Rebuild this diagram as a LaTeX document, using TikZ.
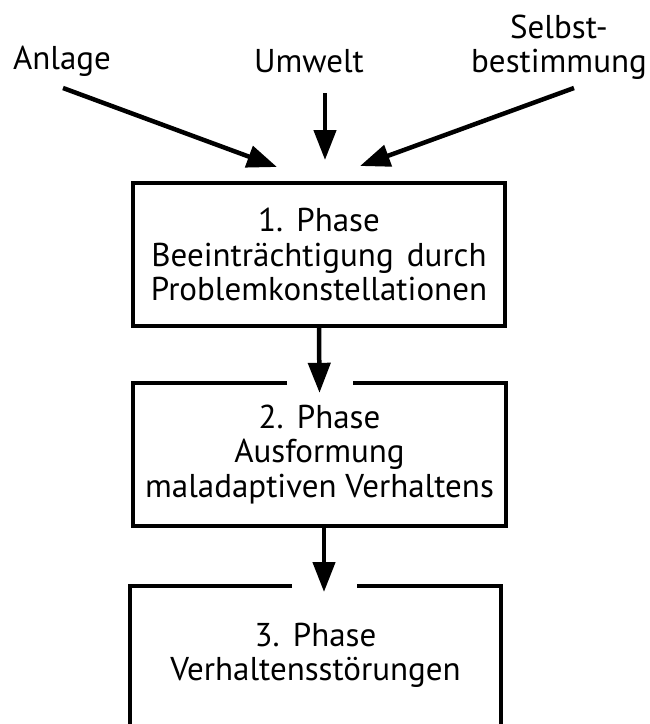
\documentclass[tikz,border=0pt]{standalone}
\usepackage{fontspec}
\setmainfont{PT Sans}
\usetikzlibrary{arrows.meta}
\begin{document}
\begin{tikzpicture}[x=1pt,y=-1pt,
  lbl/.style={font=\fontsize{33}{34.5}\selectfont, align=center, inner sep=0pt},
  arr/.style={line width=4.5pt, -{Triangle[length=30pt,width=22pt]}},
  frame/.style={line width=4pt}]
\useasboundingbox (0,0) rectangle (649,724);
\clip (0,0) rectangle (649,724);
% labels
\node[lbl] (anl) at (62,61) {Anlage};
\node[lbl] (umw) at (309,61) {Umwelt};
\node[lbl] (sel) at (559,47) {Selbst-\\bestimmung};
% boxes
\node[lbl, draw, frame, minimum width=372pt, minimum height=143pt] (b1) at (319,254.5)
  {1.\hspace{0.4em}Phase\\Beeinträchtigung\hspace{0.4em}durch\\Problemkonstellationen};
\node[lbl, minimum width=373pt, minimum height=143pt] (b2) at (319.5,454.5)
  {2.\hspace{0.4em}Phase\\Ausformung\\maladaptiven Verhaltens};
\node[lbl, minimum width=371pt, minimum height=139pt] (b3) at (315.5,655.5)
  {3.\hspace{0.4em}Phase\\Verhaltensstörungen};
\draw[frame] ([xshift=-32.5pt]b2.north) -| (b2.south west) -| (b2.north east) -- ([xshift=33.5pt]b2.north);
\draw[frame] ([xshift=-23.5pt]b3.north) -| ([yshift=-20pt]b3.south west);
\draw[frame] ([xshift=41.5pt]b3.north) -| ([yshift=-20pt]b3.south east);
% arrow coordinates
\coordinate (sa) at (63,88);
\coordinate (ta) at (277,167);
\coordinate (su) at (325,93);
\coordinate (tu) at (325,160);
\coordinate (ss) at (574,88);
\coordinate (ts) at (360,166);
\coordinate (t3) at (324,592);
% connectors
\draw[arr] (sa) -- (ta);
\draw[arr] (su) -- (tu);
\draw[arr] (ss) -- (ts);
\draw[arr] (b1.south) -- ([yshift=-10pt]b2.north);
\draw[arr] (b2.south -| t3) -- (t3);
\end{tikzpicture}
\end{document}
